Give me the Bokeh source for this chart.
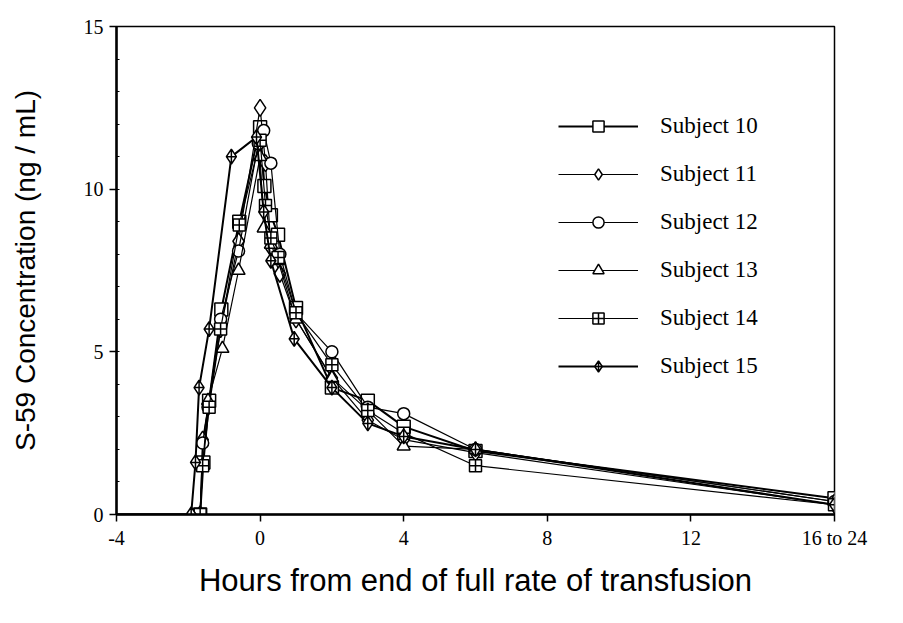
from bokeh.plotting import figure
from bokeh.models import Range1d, Legend, LegendItem, FixedTicker
from bokeh.embed import file_html
from bokeh.resources import INLINE

# Data (hours from end of full rate of transfusion, concentration ng/mL)
baseline_x = -4.0
subjects = ["Subject 10", "Subject 11", "Subject 12", "Subject 13", "Subject 14", "Subject 15"]

t10 = [-1.67, -1.58, -1.42, -1.08, -0.58, 0.0, 0.12, 0.3, 0.5, 1.0, 2.0, 3.0, 4.0, 6.0, 16.0]
c10 = [0.0, 1.6, 3.5, 6.3, 9.0, 11.9, 10.1, 9.2, 8.6, 6.35, 3.9, 3.5, 2.7, 1.95, 0.5]

t11 = [-1.67, -1.6, -1.45, -1.1, -0.6, 0.0, 0.15, 0.3, 0.55, 1.0, 2.0, 3.0, 4.0, 6.0, 16.0]
c11 = [0.0, 2.3, 3.3, 5.7, 8.4, 12.5, 10.8, 8.2, 7.4, 6.0, 4.2, 2.9, 2.3, 1.9, 0.3]

t12 = [-1.67, -1.6, -1.45, -1.1, -0.6, -0.05, 0.1, 0.3, 0.55, 1.0, 2.0, 3.0, 4.0, 6.0, 16.0]
c12 = [0.0, 2.2, 3.3, 6.0, 8.1, 11.4, 11.8, 10.8, 8.0, 6.2, 5.0, 3.3, 3.1, 2.0, 0.4]

t13 = [-1.67, -1.6, -1.45, -1.05, -0.6, 0.0, 0.1, 0.3, 0.5, 1.0, 2.0, 3.0, 4.0, 6.0, 16.0]
c13 = [0.0, 1.5, 3.5, 5.1, 7.5, 11.0, 8.8, 8.3, 7.8, 6.0, 4.2, 3.2, 2.1, 2.0, 0.4]

t14 = [-1.67, -1.6, -1.42, -1.1, -0.58, 0.0, 0.15, 0.3, 0.5, 1.0, 2.0, 3.0, 4.0, 6.0, 16.0]
c14 = [0.0, 1.5, 3.3, 5.7, 8.9, 11.5, 9.5, 8.5, 7.9, 6.2, 4.6, 3.2, 2.5, 1.5, 0.3]

t15 = [-1.92, -1.8, -1.7, -1.42, -0.8, -0.1, 0.1, 0.3, 0.95, 2.0, 3.0, 4.0, 6.0, 16.0]
c15 = [0.0, 1.6, 3.9, 5.7, 11.0, 11.6, 9.3, 7.8, 5.4, 3.9, 2.8, 2.4, 2.0, 0.3]

markers = ["square", "diamond", "circle", "triangle", "square_cross", "diamond_cross"]
marker_sizes = [13, 17, 12, 13, 12, 15]
line_widths = [2.0, 1.2, 1.2, 1.2, 1.2, 2.0]

x_ticks = [-4, 0, 4, 8, 12, 16]
x_tick_labels = {-4: "-4", 16: "16 to 24"}
y_ticks = [0, 5, 10, 15]

series_t = [t10, t11, t12, t13, t14, t15]
series_c = [c10, c11, c12, c13, c14, c15]

p = figure(width=884, height=600, output_backend="svg", toolbar_location=None,
           x_range=Range1d(-4, 16), y_range=Range1d(0, 15),
           min_border_left=116, min_border_right=50, min_border_top=26, min_border_bottom=80)
p.background_fill_color = "white"
p.border_fill_color = "white"
p.outline_line_color = "black"
p.outline_line_width = 1.5
p.grid.visible = False

items = []
for name, t, c, mk, ms, lw in zip(subjects, series_t, series_c, markers, marker_sizes, line_widths):
    lx = [baseline_x] + t
    ly = [0.0] + c
    ln = p.line(lx, ly, line_color="black", line_width=lw)
    sc = p.scatter(t, c, marker=mk, size=ms, fill_color="white",
                   line_color="black", line_width=1.5)
    items.append(LegendItem(label=name, renderers=[ln, sc]))

legend = Legend(items=items, location=(442, 134), glyph_width=80, glyph_height=28,
                spacing=20, label_standoff=22, padding=0, margin=0,
                border_line_color=None, background_fill_alpha=0,
                label_text_font="Liberation Serif", label_text_font_size="23px",
                label_text_color="black")
p.add_layout(legend, "center")

# axes
p.xaxis.ticker = FixedTicker(ticks=x_ticks)
p.xaxis.major_label_overrides = x_tick_labels
p.yaxis.ticker = FixedTicker(ticks=y_ticks, minor_ticks=list(range(0, 16)))
for ax in (p.xaxis[0], p.yaxis[0]):
    ax.axis_line_color = "black"
    ax.axis_line_width = 2.5
    ax.major_tick_line_color = "black"
    ax.major_tick_line_width = 1.5
    ax.major_tick_out = 7
    ax.major_tick_in = 0
    ax.major_label_text_font = "Liberation Serif"
    ax.major_label_text_font_size = "20px"
    ax.major_label_text_color = "black"
    ax.axis_label_text_font = "Liberation Sans"
    ax.axis_label_text_font_style = "normal"
    ax.axis_label_text_color = "black"
p.xaxis.axis_label_text_font_size = "31px"
p.yaxis.axis_label_text_font_size = "28px"
p.xaxis.minor_tick_line_color = None
p.yaxis.minor_tick_in = 3
p.yaxis.minor_tick_out = 0
p.yaxis.minor_tick_line_color = "black"
p.xaxis.major_label_standoff = 5
p.yaxis.major_label_standoff = 6
p.xaxis.axis_label = "Hours from end of full rate of transfusion"
p.yaxis.axis_label = "S-59 Concentration (ng / mL)"
p.xaxis.axis_label_standoff = 11
p.yaxis.axis_label_standoff = 40

open("out.html", "w").write(file_html(p, INLINE))
